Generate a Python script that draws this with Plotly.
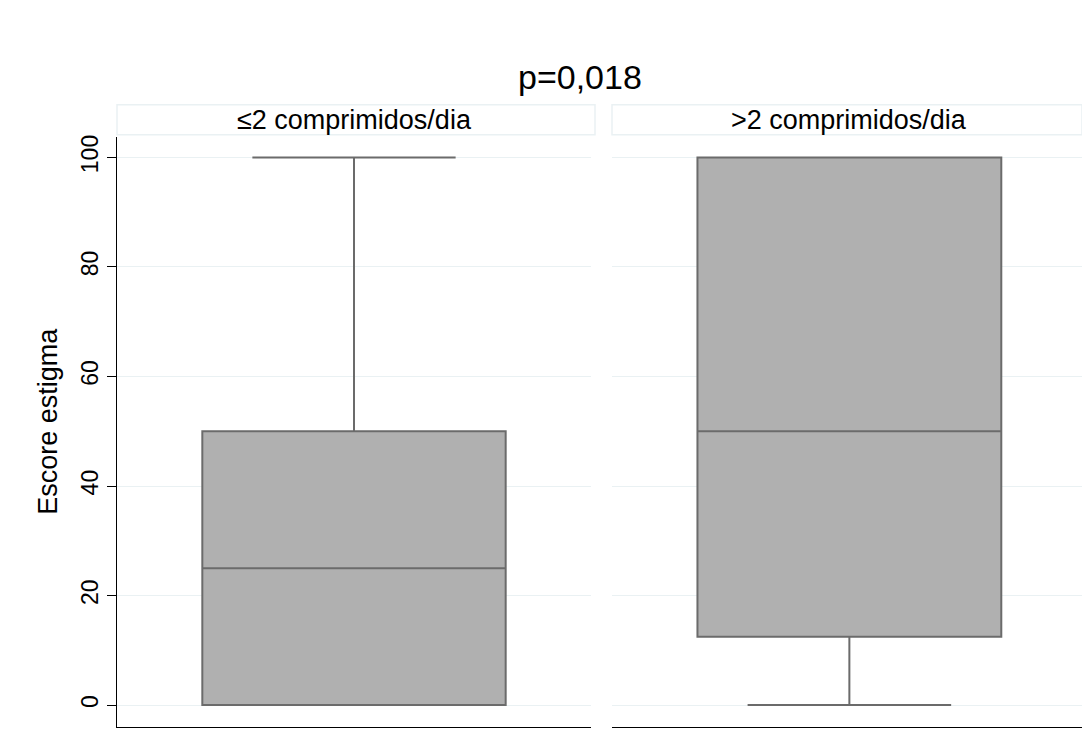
import plotly.graph_objects as go

# Stigma score summary per pill-burden group
groups = ["≤2 comprimidos/dia", ">2 comprimidos/dia"]
q1 = [0, 12.5]
median = [25, 50]
q3 = [50, 100]
lower_whisker = [0, 0]
upper_whisker = [100, 100]
y_ticks = [0, 20, 40, 60, 80, 100]
title_text = "p=0,018"
y_title = "Escore estigma"

W, H = 1082, 734
FONT = "Liberation Sans, Arial, Helvetica, sans-serif"
BOX_FILL = "#b0b0b0"
BOX_LINE = "#6b6b6b"
GRID = "#eaf1f3"

# panel geometry in pixels
panels_px = [(117, 591), (612, 1082)]
plot_top, plot_bottom = 135, 727
strip_top, strip_bottom = 103, 133

def px_x(x):
    return x / W

def px_y(y):
    return 1 - y / H

fig = go.Figure()

x_ranges = [[-0.5, 0.5], [-0.5, 0.49]]
for i, g in enumerate(groups):
    xa = "x" if i == 0 else "x2"
    fig.add_trace(go.Box(
        x=[0],
        q1=[q1[i]], median=[median[i]], q3=[q3[i]],
        lowerfence=[lower_whisker[i]], upperfence=[upper_whisker[i]],
        width=0.64, whiskerwidth=0.67,
        fillcolor=BOX_FILL,
        line=dict(color=BOX_LINE, width=2),
        boxpoints=False,
        hoverinfo="skip",
        showlegend=False,
        xaxis=xa, yaxis="y" if i == 0 else "y2",
        name=g,
    ))

y_range = [-4.0, 103.8]
common_x = dict(showticklabels=False, ticks="", showgrid=False, zeroline=False,
                showline=True, linecolor="#000000", linewidth=1.2, mirror=False)
common_y = dict(range=y_range, tickvals=y_ticks, showgrid=True, gridcolor=GRID,
                gridwidth=1, zeroline=False,
                domain=[px_y(plot_bottom), px_y(plot_top)])

fig.update_layout(
    width=W, height=H,
    margin=dict(l=0, r=0, t=0, b=0),
    paper_bgcolor="white", plot_bgcolor="white",
    font=dict(family=FONT, color="#000000"),
    xaxis=dict(domain=[px_x(panels_px[0][0]), px_x(panels_px[0][1])],
               range=x_ranges[0], anchor="y", **common_x),
    xaxis2=dict(domain=[px_x(panels_px[1][0]), min(1.0, px_x(panels_px[1][1]))],
                range=x_ranges[1], anchor="y2", **common_x),
    yaxis=dict(anchor="x", showline=True, linecolor="#000000", linewidth=1.2,
               ticks="outside", ticklen=9, tickcolor="#000000", tickwidth=1,
               tickangle=-90, tickfont=dict(size=23, family=FONT),
               showticklabels=True,
               **common_y),
    yaxis2=dict(anchor="x2", showline=False, showticklabels=False, ticks="",
                **common_y),
)

# y-axis title
fig.add_annotation(x=px_x(48), y=px_y(421), xref="paper", yref="paper",
                   text=y_title, textangle=-90, showarrow=False,
                   font=dict(size=27, family=FONT), xanchor="center", yanchor="middle")

# facet strip headers
for i, g in enumerate(groups):
    x0, x1 = panels_px[i]
    fig.add_shape(type="rect", xref="paper", yref="paper",
                  x0=px_x(x0), x1=min(1.0, px_x(x1 + 4)),
                  y0=px_y(strip_bottom), y1=px_y(strip_top),
                  line=dict(color=GRID, width=1.5), fillcolor="white", layer="below")
    cx = (x0 + (x1 if i == 0 else x1 + 4)) / 2
    fig.add_annotation(x=px_x(cx), y=px_y((strip_top + strip_bottom) / 2),
                       xref="paper", yref="paper", text=g, showarrow=False,
                       font=dict(size=27, family=FONT), xanchor="center", yanchor="middle")

fig.add_annotation(x=px_x(580), y=px_y(75), xref="paper", yref="paper",
                   text=title_text, showarrow=False,
                   font=dict(size=34, family=FONT), xanchor="center", yanchor="middle")

fig.write_html("out.html")
